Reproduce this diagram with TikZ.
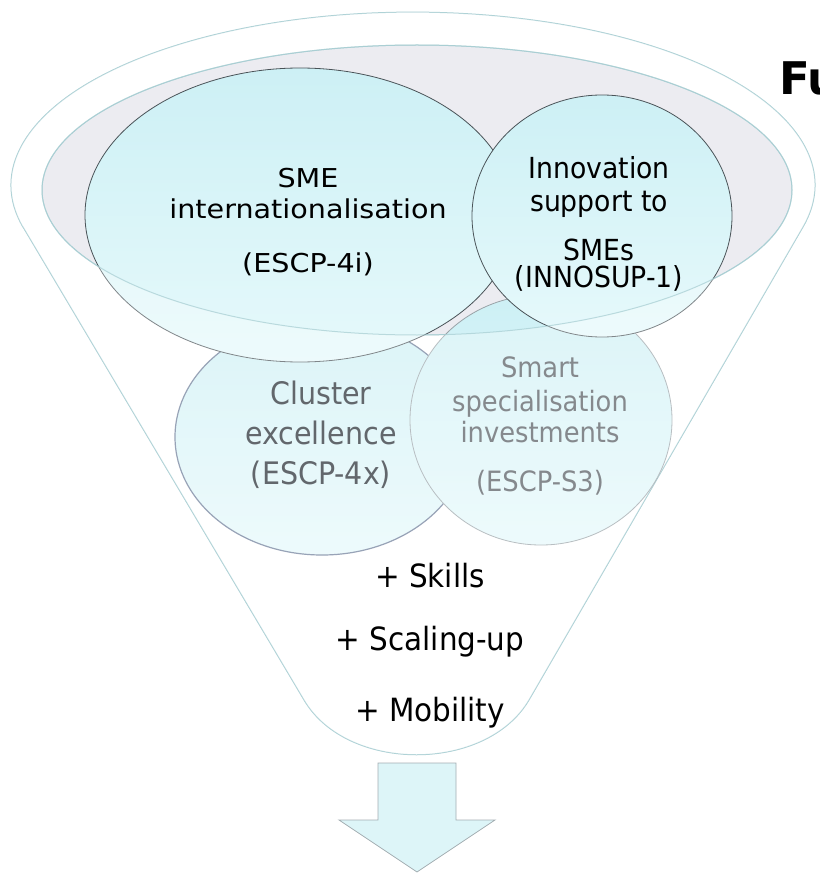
\documentclass[tikz,border=0pt]{standalone}
\usepackage{fontspec}
\setmainfont{DejaVu Sans}
\newfontfamily\narrowfont{DejaVu Sans}[FakeStretch=0.92]
\newfontfamily\widefont{DejaVu Sans}[FakeStretch=1.1]
\usepackage{tikz}
\usetikzlibrary{shapes.geometric}

\definecolor{funnelLine}{HTML}{A6CDD2}
\definecolor{rimGray}{HTML}{ECECF1}
\definecolor{bubbleTop}{HTML}{CDF0F5}
\definecolor{bubbleBottom}{HTML}{E6F9FB}
\definecolor{bubbleLine}{HTML}{4A5358}
\definecolor{clusterLine}{HTML}{6C7C98}
\definecolor{smartLine}{HTML}{9AA3A8}
\definecolor{arrowFill}{HTML}{DDF5F8}
\definecolor{arrowLine}{HTML}{A3AEB2}
\definecolor{greyText}{HTML}{62676C}
\definecolor{lightText}{HTML}{85898D}

\newcommand{\funnelshape}{(23,227) -- (304,700) .. controls (347,773) and (486,773) .. (529,700) -- (803,227) arc[start angle=-14, end angle=194, x radius=402pt, y radius=173pt] -- cycle}

\begin{document}
\begin{tikzpicture}[
    x=1pt, y=-1pt,
    funnel/.style={draw=funnelLine, line width=1pt},
    bubble/.style={ellipse, draw=bubbleLine, line width=0.8pt, top color=bubbleTop, bottom color=bubbleBottom, inner sep=0pt},
    bubbletext/.style={align=center, inner sep=0pt, anchor=north}
]
    \useasboundingbox (0,0) rectangle (819,877);

    % Funnel
    \draw[funnel, fill=white] \funnelshape;
    \draw[funnel, fill=rimGray] (417,190) ellipse [x radius=375pt, y radius=145pt];

    % Calls in the funnel
    \node[bubble, draw=clusterLine, line width=1.2pt, minimum width=294pt, minimum height=236pt] (cluster) at (322,437) {};
    \node[bubble, draw=smartLine, minimum width=262pt, minimum height=250pt] (smart) at (541,420) {};
    \node[bubble, minimum width=430pt, minimum height=294pt] (sme) at (300,215) {};
    \node[bubble, minimum width=260pt, minimum height=242pt] (innosup) at (602,216) {};

    % Funnel body in front
    \fill[white, fill opacity=0.3, even odd rule] \funnelshape (417,190) ellipse [x radius=375pt, y radius=145pt];
    \draw[funnel, draw opacity=0.7] (417,190) ellipse [x radius=375pt, y radius=145pt];

    % Texts
    \node[bubbletext, font=\widefont\fontsize{26}{31}\selectfont] (smetext) at (308,168) {SME\\internationalisation\\[23pt](ESCP-4i)};
    \node[bubbletext, font=\narrowfont\fontsize{29}{33}\selectfont] (innosuptext) at (599,156) {Innovation\\support to\\[16pt]SMEs\\[-6pt](INNOSUP-1)};
    \node[bubbletext, text=greyText, font=\narrowfont\fontsize{31}{40}\selectfont] (clustertext) at (321,381) {Cluster\\excellence\\(ESCP-4x)};
    \node[bubbletext, text=lightText, font=\narrowfont\fontsize{28}{32}\selectfont] (smarttext) at (540,357) {Smart\\[2pt]specialisation\\[-1pt]investments\\[17pt](ESCP-S3)};
    \node[bubbletext, font=\narrowfont\fontsize{32}{63}\selectfont] (extras) at (430,563) {+ Skills\\+ Scaling-up\\[8pt]+ Mobility};

    % Arrow out of the funnel
    \draw[draw=arrowLine, fill=arrowFill, line width=0.8pt] (378,763) -- (456,763) -- (456,820) -- (495,820) -- (417,872) -- (339,820) -- (378,820) -- cycle;

    % Title at the edge
    \node[anchor=base west, inner sep=0pt, font=\bfseries\fontsize{45}{45}\selectfont] (title) at (779,95) {Fu};
\end{tikzpicture}
\end{document}
